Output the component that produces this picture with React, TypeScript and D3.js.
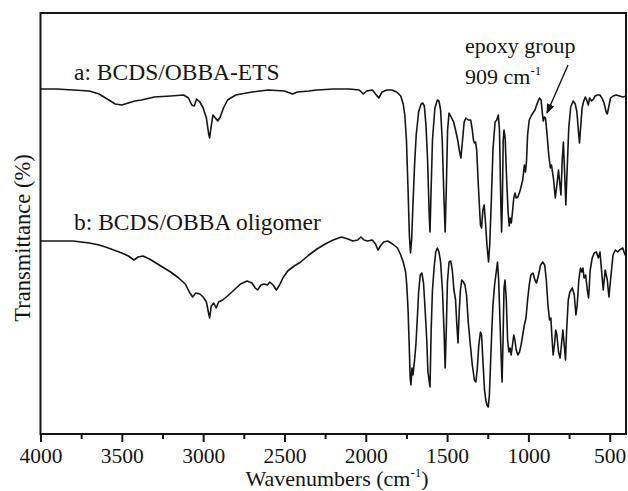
import React, { useRef, useEffect } from "react";
import * as d3 from "d3";

// wavenumber (cm-1), transmittance (arbitrary units)
const spectrumA: [number, number][] = [
  [4000, 345], [3900, 345], [3800, 344], [3700, 343], [3640, 340], [3580, 334], [3540, 330], [3500, 329],
  [3460, 331], [3420, 333], [3380, 334], [3300, 337], [3200, 338], [3120, 339], [3090, 336], [3070, 329],
  [3055, 328], [3040, 335], [3020, 332], [3000, 326], [2980, 316], [2965, 299], [2960, 296], [2952, 306],
  [2940, 319], [2925, 316], [2910, 313], [2895, 317], [2875, 326], [2850, 334], [2800, 339], [2700, 342],
  [2600, 344], [2500, 343], [2450, 340], [2420, 342], [2350, 343], [2300, 344], [2200, 345], [2100, 345],
  [2040, 344], [2015, 340], [1995, 343], [1960, 344], [1935, 339], [1920, 336], [1900, 342], [1870, 344],
  [1840, 344], [1810, 342], [1785, 338], [1770, 330], [1760, 319], [1750, 294], [1740, 244], [1732, 199],
  [1725, 181], [1718, 194], [1710, 229], [1700, 269], [1690, 299], [1675, 322], [1660, 330], [1650, 331],
  [1640, 328], [1630, 309], [1620, 274], [1610, 219], [1605, 202], [1600, 234], [1590, 294], [1575, 326],
  [1560, 334], [1550, 333], [1540, 324], [1530, 294], [1520, 239], [1512, 202], [1505, 244], [1497, 304],
  [1488, 321], [1475, 317], [1460, 312], [1448, 304], [1435, 294], [1425, 284], [1415, 276], [1405, 294],
  [1395, 312], [1385, 316], [1370, 314], [1355, 314], [1345, 304], [1338, 294], [1332, 291], [1325, 292],
  [1318, 284], [1308, 249], [1295, 209], [1288, 206], [1280, 224], [1272, 229], [1265, 214], [1255, 189],
  [1245, 172], [1238, 189], [1228, 234], [1218, 284], [1205, 312], [1195, 314], [1185, 319], [1178, 304],
  [1170, 234], [1165, 202], [1160, 234], [1155, 294], [1150, 304], [1143, 296], [1135, 259], [1125, 222],
  [1118, 208], [1112, 216], [1105, 211], [1098, 222], [1090, 236], [1082, 241], [1075, 236], [1065, 237],
  [1050, 244], [1035, 254], [1025, 269], [1018, 262], [1012, 272], [1005, 299], [995, 314], [980, 319],
  [960, 324], [945, 331], [932, 336], [922, 334], [915, 322], [909, 313], [902, 317], [895, 316],
  [885, 299], [875, 279], [865, 266], [858, 269], [852, 262], [845, 254], [835, 236], [825, 249],
  [815, 264], [808, 252], [800, 239], [792, 274], [785, 292], [778, 264], [770, 229], [762, 264],
  [752, 306], [740, 327], [725, 333], [712, 330], [702, 322], [692, 302], [686, 291], [680, 304],
  [670, 326], [660, 333], [650, 337], [642, 334], [632, 329], [624, 336], [612, 333], [600, 335],
  [590, 338], [575, 339], [560, 339], [548, 336], [535, 331], [522, 322], [515, 320], [505, 328],
  [495, 336], [480, 338], [460, 339], [440, 338], [420, 337], [400, 338],
];

const spectrumB: [number, number][] = [
  [4000, 193], [3900, 193], [3800, 193], [3700, 191], [3640, 189], [3600, 187], [3550, 184], [3500, 181],
  [3460, 178], [3425, 174], [3400, 177], [3370, 178], [3330, 175], [3300, 172], [3250, 167], [3200, 162],
  [3150, 156], [3110, 150], [3085, 142], [3065, 137], [3045, 141], [3020, 140], [3000, 137], [2980, 132],
  [2968, 122], [2960, 116], [2950, 128], [2935, 131], [2920, 126], [2905, 132], [2880, 134], [2850, 138],
  [2810, 144], [2770, 150], [2730, 153], [2700, 151], [2680, 146], [2665, 144], [2645, 149], [2625, 150],
  [2605, 149], [2590, 152], [2570, 149], [2550, 144], [2530, 149], [2510, 156], [2480, 163], [2440, 168],
  [2400, 172], [2350, 179], [2300, 185], [2250, 190], [2200, 194], [2150, 197], [2110, 195], [2080, 193],
  [2050, 194], [2030, 197], [2010, 194], [1990, 193], [1960, 194], [1940, 190], [1925, 184], [1910, 188],
  [1890, 192], [1865, 193], [1835, 190], [1805, 186], [1785, 179], [1770, 172], [1755, 162], [1748, 149],
  [1740, 124], [1733, 89], [1727, 56], [1722, 49], [1716, 66], [1710, 59], [1700, 74], [1692, 89],
  [1683, 116], [1675, 142], [1665, 159], [1655, 161], [1645, 151], [1635, 124], [1625, 94], [1618, 62],
  [1605, 47], [1598, 104], [1590, 144], [1580, 166], [1570, 182], [1560, 186], [1550, 182], [1540, 172],
  [1528, 142], [1518, 99], [1512, 66], [1505, 104], [1498, 152], [1488, 172], [1478, 173], [1468, 164],
  [1458, 144], [1448, 134], [1440, 109], [1433, 91], [1425, 124], [1418, 144], [1410, 154], [1400, 152],
  [1390, 149], [1380, 138], [1370, 112], [1360, 94], [1345, 69], [1332, 54], [1323, 52], [1315, 64],
  [1305, 89], [1295, 102], [1288, 99], [1280, 74], [1270, 44], [1262, 34], [1255, 29], [1247, 27],
  [1240, 39], [1232, 74], [1225, 104], [1218, 129], [1208, 149], [1198, 162], [1190, 172], [1183, 154],
  [1175, 114], [1167, 74], [1162, 52], [1156, 94], [1150, 146], [1144, 154], [1136, 134], [1128, 94],
  [1120, 82], [1113, 86], [1106, 79], [1098, 89], [1090, 99], [1083, 94], [1075, 84], [1065, 79],
  [1055, 82], [1045, 89], [1035, 99], [1025, 109], [1015, 116], [1005, 134], [995, 149], [985, 159],
  [972, 161], [960, 154], [950, 151], [938, 159], [925, 169], [912, 172], [900, 169], [890, 154],
  [880, 129], [870, 114], [862, 116], [855, 96], [848, 79], [840, 89], [832, 104], [825, 99],
  [815, 82], [805, 76], [797, 89], [788, 104], [780, 89], [772, 74], [765, 104], [755, 134],
  [745, 142], [730, 146], [718, 139], [708, 119], [700, 129], [690, 154], [680, 166], [672, 162],
  [665, 166], [658, 156], [648, 159], [638, 144], [630, 136], [620, 164], [608, 176], [595, 181],
  [582, 182], [570, 176], [560, 182], [548, 159], [540, 144], [528, 164], [515, 154], [505, 137],
  [495, 154], [480, 179], [465, 184], [451, 182], [440, 184], [420, 186], [408, 180], [400, 178],
];

const majorTicks = [4000, 3500, 3000, 2500, 2000, 1500, 1000, 500];
const minorTicks = [3750, 3250, 2750, 2250, 1750, 1250, 750];

const FONT = "Liberation Serif, Times New Roman, serif";
const INK = "#151515";

export default function App() {
  const svgRef = useRef<SVGSVGElement>(null);
  const width = 628;
  const height = 491;
  const margin = { top: 13, right: 2, bottom: 57, left: 40.5 };

  useEffect(() => {
    const svg = d3.select(svgRef.current);
    svg.selectAll("*").remove();

    const x = d3.scaleLinear().domain([4000, 400]).range([margin.left, width - margin.right]);
    const y = d3.scaleLinear().domain([0, 421]).range([height - margin.bottom, margin.top]);
    const y0 = height - margin.bottom;

    const line = d3
      .line<[number, number]>()
      .x((d) => x(d[0]))
      .y((d) => y(d[1]));

    [spectrumA, spectrumB].forEach((s) => {
      svg
        .append("path")
        .datum(s)
        .attr("d", line)
        .attr("fill", "none")
        .attr("stroke", INK)
        .attr("stroke-width", 1.6)
        .attr("stroke-linejoin", "round");
    });

    // frame
    svg
      .append("rect")
      .attr("x", margin.left)
      .attr("y", margin.top)
      .attr("width", width - margin.right - margin.left)
      .attr("height", y0 - margin.top)
      .attr("fill", "none")
      .attr("stroke", INK)
      .attr("stroke-width", 2);

    const gx = svg.append("g").attr("transform", `translate(0,${y0})`);
    gx.call(d3.axisBottom(x).tickValues(majorTicks).tickSize(8).tickFormat(d3.format("d")));
    gx.call((g) => g.select(".domain").remove());
    gx.selectAll("line").attr("stroke", INK).attr("stroke-width", 2);
    gx.selectAll("text")
      .attr("y", 29)
      .attr("dy", 0)
      .style("font-family", FONT)
      .style("font-size", "21.5px")
      .attr("fill", INK);

    const gm = svg.append("g").attr("transform", `translate(0,${y0})`);
    gm.call(d3.axisBottom(x).tickValues(minorTicks).tickSize(5).tickFormat(() => ""));
    gm.call((g) => g.select(".domain").remove());
    gm.selectAll("line").attr("stroke", INK).attr("stroke-width", 2);

    const text = (tx: number, ty: number, size: number, s: string, sup?: string, tail?: string) => {
      const t = svg
        .append("text")
        .attr("x", tx)
        .attr("y", ty)
        .style("font-family", FONT)
        .style("font-size", `${size}px`)
        .attr("fill", INK);
      t.append("tspan").text(s);
      if (sup) t.append("tspan").attr("dy", -9).style("font-size", "13px").text(sup);
      if (tail) t.append("tspan").attr("dy", 9).text(tail);
      return t;
    };

    // axis titles
    text(337, 486, 22, "Wavenumbers (cm", "-1", ")").attr("text-anchor", "middle");
    text(0, 0, 22.5, "Transmittance (%)")
      .attr("text-anchor", "middle")
      .attr("transform", "translate(30,238) rotate(-90)");

    // curve labels
    text(74, 80, 23.5, "a: BCDS/OBBA-ETS");
    text(74, 230, 23.5, "b: BCDS/OBBA oligomer");
    text(465, 53, 22, "epoxy group");
    text(465, 84, 22, "909 cm", "-1");

    // arrow pointing to the 909 cm-1 band
    svg
      .append("defs")
      .append("marker")
      .attr("id", "head")
      .attr("viewBox", "0 0 10 10")
      .attr("refX", 9)
      .attr("refY", 5)
      .attr("markerWidth", 10)
      .attr("markerHeight", 10)
      .attr("markerUnits", "userSpaceOnUse")
      .attr("orient", "auto")
      .append("path")
      .attr("d", "M0,1 L10,5 L0,9 z")
      .attr("fill", INK);
    svg
      .append("line")
      .attr("x1", 568)
      .attr("y1", 65)
      .attr("x2", 547)
      .attr("y2", 113)
      .attr("stroke", INK)
      .attr("stroke-width", 1.4)
      .attr("marker-end", "url(#head)");
  }, []);

  return (
    <div style={{ position: "absolute", left: 0, top: 0 }}>
      <svg ref={svgRef} width={width} height={height} style={{ display: "block", background: "#fff" }} />
    </div>
  );
}
